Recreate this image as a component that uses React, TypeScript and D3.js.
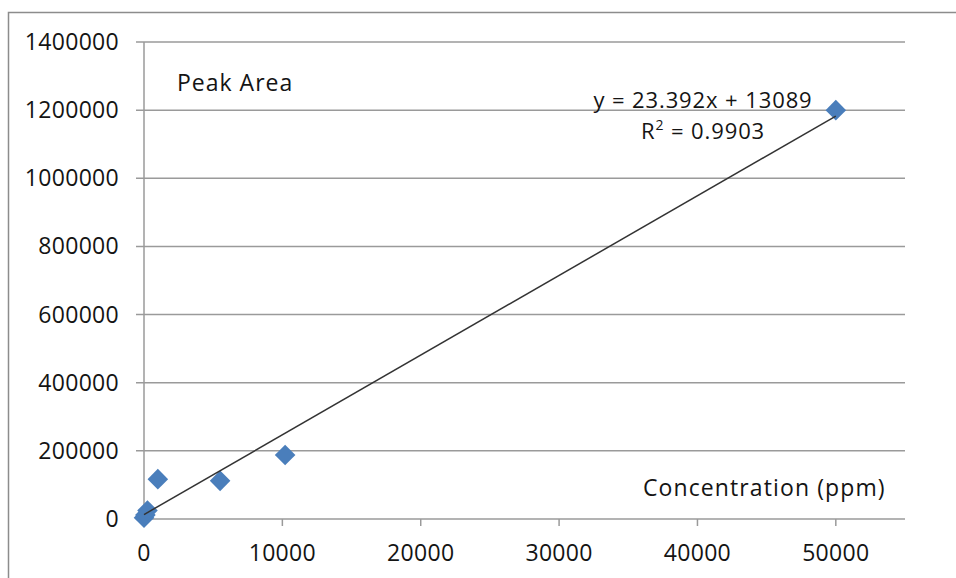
import React from 'react';
import * as d3 from 'd3';

// data
const concentration = [0, 100, 250, 1000, 5500, 10200, 50000];
const peakArea = [4000, 12000, 25000, 117000, 112000, 188000, 1200000];
const xTicks = [0, 10000, 20000, 30000, 40000, 50000];
const yTicks = [0, 200000, 400000, 600000, 800000, 1000000, 1200000, 1400000];
const slope = 23.392;
const intercept = 13089;
const equationLabel = 'y = 23.392x + 13089';
const rSquaredValue = '0.9903';

const W = 956;
const H = 578;
const margin = { left: 144, right: 51, top: 42, bottom: 59 };
const FONT = '"Open Sans", sans-serif';
const INK = '#141414';

function App() {
  const x = d3.scaleLinear().domain([0, 55000]).range([margin.left, W - margin.right]);
  const y = d3.scaleLinear().domain([0, 1400000]).range([H - margin.bottom, margin.top]);

  const points = concentration.map((c, i) => ({ c, a: peakArea[i] }));
  const diamond = d3.symbol().type(d3.symbolDiamond2).size(270)();

  const xMin = d3.min(concentration);
  const xMax = d3.max(concentration);
  const trend = d3.line()([
    [x(xMin), y(slope * xMin + intercept)],
    [x(xMax), y(slope * xMax + intercept)],
  ]);

  return (
    <svg width={W} height={H} style={{ position: 'absolute', left: 0, top: 0, background: '#fff' }}
      fontFamily={FONT}>
      {/* chart frame */}
      <rect x={8.5} y={12.5} width={1000} height={1000} fill="none" stroke="#8c8c8c" strokeWidth={1.5} />

      {/* gridlines + y labels */}
      {yTicks.map(t => (
        <g key={t}>
          <line x1={margin.left - 8} x2={W - margin.right} y1={y(t)} y2={y(t)} stroke="#9a9a9a" strokeWidth={1.5} />
          <text x={119} y={y(t)} dy="0.35em" textAnchor="end" fontSize={23} letterSpacing={0.3} fill={INK}>{t}</text>
        </g>
      ))}

      {/* y axis */}
      <line x1={margin.left} x2={margin.left} y1={margin.top} y2={y(0)} stroke="#9a9a9a" strokeWidth={1.5} />

      {/* x ticks + labels */}
      {xTicks.map(t => (
        <g key={t}>
          <line x1={x(t)} x2={x(t)} y1={y(0)} y2={y(0) + 7} stroke="#9a9a9a" strokeWidth={1.5} />
          <text x={x(t)} y={553} dy="0.35em" textAnchor="middle" fontSize={23} letterSpacing={0.3} fill={INK}>{t}</text>
        </g>
      ))}

      {/* markers */}
      {points.map((p, i) => (
        <path key={i} d={diamond} transform={`translate(${x(p.c)},${y(p.a)})`} fill="#4a7ebb" />
      ))}

      {/* linear trendline */}
      <path d={trend} stroke="#333" strokeWidth={1.5} fill="none" />

      {/* labels */}
      <text x={177} y={91} fontSize={23} letterSpacing={1} fill={INK}>Peak Area</text>
      <text x={643} y={496} fontSize={23} letterSpacing={1.1} fill={INK}>Concentration (ppm)</text>
      <text x={703} y={108} textAnchor="middle" fontSize={22} letterSpacing={0.9} fill={INK}>{equationLabel}</text>
      <text x={703} y={139} textAnchor="middle" fontSize={22} letterSpacing={0.9} fill={INK}>
        R<tspan dy={-9} fontSize={14}>2</tspan><tspan dy={9}> = {rSquaredValue}</tspan>
      </text>
    </svg>
  );
}

export default App;
